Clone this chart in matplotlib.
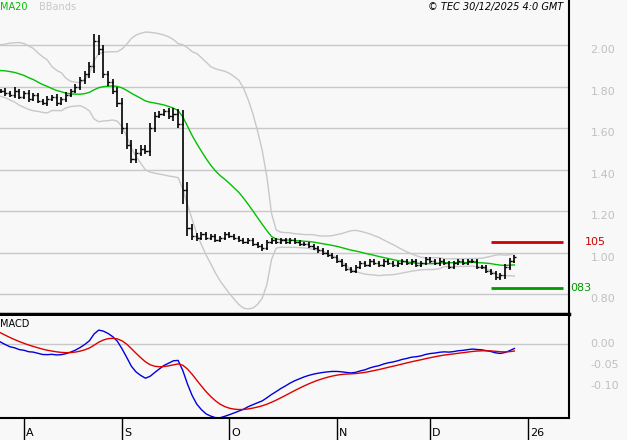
import numpy as np
import pandas as pd
import matplotlib
matplotlib.use("Agg")
import matplotlib.pyplot as plt

pre_close = [1.68, 1.70, 1.67, 1.69, 1.71, 1.70, 1.68, 1.71, 1.72, 1.70,
             1.72, 1.73, 1.71, 1.74, 1.72, 1.75, 1.73, 1.76, 1.76, 1.77,
             1.78, 1.80, 1.83, 1.86, 1.89, 1.92, 1.96, 1.94, 1.98, 1.95,
             1.92, 1.96, 1.90, 1.86, 1.90, 1.85, 1.82, 1.84, 1.80, 1.78]
close = [1.78, 1.77, 1.76, 1.78, 1.75, 1.77, 1.74, 1.76, 1.73, 1.72,
         1.74, 1.75, 1.72, 1.74, 1.76, 1.78, 1.80, 1.83, 1.86, 1.90,
         2.02, 1.98, 1.86, 1.82, 1.78, 1.72, 1.60, 1.52, 1.45, 1.48,
         1.50, 1.49, 1.60, 1.66, 1.67, 1.68, 1.66, 1.67, 1.62, 1.30,
         1.12, 1.08, 1.07, 1.09, 1.07, 1.08, 1.06, 1.07, 1.09, 1.08,
         1.07, 1.06, 1.05, 1.06, 1.04, 1.03, 1.02, 1.05, 1.06, 1.05,
         1.06, 1.05, 1.06, 1.05, 1.04, 1.04, 1.03, 1.02, 1.01, 1.00,
         0.99, 0.98, 0.96, 0.94, 0.92, 0.91, 0.93, 0.95, 0.94, 0.96,
         0.95, 0.94, 0.96, 0.95, 0.94, 0.95, 0.96, 0.95, 0.96, 0.94,
         0.95, 0.97, 0.96, 0.95, 0.96, 0.95, 0.93, 0.95, 0.96, 0.95,
         0.96, 0.96, 0.93, 0.93, 0.91, 0.90, 0.88, 0.89, 0.93, 0.96,
         0.98]
bar_range = [0.03, 0.04, 0.03, 0.05, 0.03, 0.03, 0.04, 0.03, 0.03, 0.03,
             0.04, 0.03, 0.04, 0.03, 0.04, 0.03, 0.04, 0.05, 0.05, 0.06,
             0.10, 0.09, 0.06, 0.05, 0.05, 0.06, 0.08, 0.07, 0.06, 0.05,
             0.05, 0.05, 0.07, 0.05, 0.04, 0.04, 0.05, 0.08, 0.06, 0.20,
             0.12, 0.06, 0.04, 0.03, 0.03, 0.03, 0.03, 0.03, 0.03, 0.03,
             0.03, 0.03, 0.03, 0.03, 0.03, 0.03, 0.04, 0.03, 0.03, 0.03,
             0.03, 0.03, 0.03, 0.03, 0.03, 0.03, 0.03, 0.03, 0.03, 0.03,
             0.03, 0.03, 0.03, 0.03, 0.03, 0.03, 0.03, 0.03, 0.03, 0.03,
             0.03, 0.03, 0.03, 0.03, 0.03, 0.03, 0.03, 0.03, 0.03, 0.03,
             0.03, 0.03, 0.03, 0.03, 0.04, 0.03, 0.03, 0.03, 0.03, 0.03,
             0.03, 0.03, 0.03, 0.03, 0.03, 0.03, 0.03, 0.03, 0.05, 0.04,
             0.03]
month_labels = ["A", "S", "O", "N", "D", "26"]
month_pos = [0, 21, 44, 67, 87, 108]
y_ticks = [0.80, 1.00, 1.20, 1.40, 1.60, 1.80, 2.00]
y_ticklabels = ["0.80", "1.00", "1.20", "1.40", "1.60", "1.80", "2.00"]
macd_ticks = [0.00, -0.05, -0.10]
macd_ticklabels = ["0.00", "-0.05", "-0.10"]
resistance, support = 1.05, 0.83

allc = pd.Series(pre_close + close)
n0 = len(pre_close)
ma = allc.rolling(20, min_periods=1).mean()
sd = allc.rolling(20, min_periods=2).std(ddof=0).bfill()
up, lo = ma + 2 * sd, ma - 2 * sd
ema12 = allc.ewm(span=12, adjust=False).mean()
ema26 = allc.ewm(span=26, adjust=False).mean()
macd = ema12 - ema26
sig = macd.ewm(span=9, adjust=False).mean()

idx_all = np.arange(len(allc)) - n0 - 5
idx = np.arange(len(close)) - 5
c = np.array(close)
o = np.r_[pre_close[-1], c[:-1]]
r = np.array(bar_range)
hi = np.maximum(o, c) + r / 3
lw = np.minimum(o, c) - r / 3

bg = "#f8f8f8"
fig = plt.figure(figsize=(6.27, 4.4), dpi=100, facecolor=bg)
xl = (-5.14, 116.7)
ax = fig.add_axes([0, 0.2864, 0.9075, 0.7136], facecolor=bg)
ax2 = fig.add_axes([0, 0.05, 0.9075, 0.2318], facecolor=bg)

for a in (ax, ax2):
    a.set_xlim(*xl)
    for s in ("left", "top"):
        a.spines[s].set_visible(False)
    a.spines["right"].set_color("black")
    a.spines["right"].set_linewidth(1.5)
    a.yaxis.tick_right()
    a.tick_params(left=False, bottom=False, labelbottom=False, right=False,
                  labelright=True, labelleft=False, labelcolor="#c0c0c0", labelsize=8, pad=12)

ax.spines["bottom"].set_linewidth(2.5)
ax.set_ylim(0.704, 2.217)
ax.set_yticks(y_ticks)
ax.set_yticklabels(y_ticklabels, va="top")
for t in y_ticks:
    ax.axhline(t, color="#c8c8c8", lw=1, zorder=0)
m = idx_all >= -6
ax.plot(idx_all[m], up[m], color="#c8c8c8", lw=1)
ax.plot(idx_all[m], lo[m], color="#c8c8c8", lw=1)
ax.plot(idx_all[m], ma[m], color="#00c000", lw=1)
ax.vlines(idx, lw, hi, color="black", lw=1.2)
ax.hlines(o, idx - 0.45, idx, color="black", lw=1)
ax.hlines(c, idx, idx + 0.45, color="black", lw=1)
ax.hlines(resistance, 100, 115.5, color="#cc0000", lw=2)
ax.hlines(support, 100, 115.5, color="#009900", lw=2)
ax.text(120.0, resistance, "105", color="#cc0000", fontsize=8, va="center", ha="left",
        clip_on=False)
ax.text(116.9, support, "083", color="#009900", fontsize=8, va="center", ha="left",
        clip_on=False)
ax.text(0.0, 0.995, "MA20", color="#00c000", fontsize=7, va="top", ha="left", transform=ax.transAxes)
ax.text(0.068, 0.995, "BBands", color="#c8c8c8", fontsize=7, va="top", ha="left", transform=ax.transAxes)
ax.text(0.99, 0.995, "© TEC 30/12/2025 4:0 GMT", color="black", fontsize=7, style="italic",
        va="top", ha="right", transform=ax.transAxes)

ax2.set_ylim(-0.178, 0.069)
ax2.set_yticks(macd_ticks)
ax2.set_yticklabels(macd_ticklabels, va="center")
ax2.axhline(0, color="#c8c8c8", lw=1, zorder=0)
ax2.plot(idx_all[m], macd[m], color="#0000dd", lw=1)
ax2.plot(idx_all[m], sig[m], color="#dd0000", lw=1)
ax2.text(0.0, 0.97, "MACD", color="black", fontsize=7, va="top", ha="left", transform=ax2.transAxes)
ax2.spines["bottom"].set_linewidth(1.5)
for p, lab in zip(month_pos, month_labels):
    ax2.plot([p, p], [-0.178, -0.23], color="black", lw=1, clip_on=False)
    ax2.text(p + 0.4, -0.215, lab, fontsize=8, va="center", ha="left", clip_on=False)

fig.savefig("out.png", dpi=100, facecolor=bg)
